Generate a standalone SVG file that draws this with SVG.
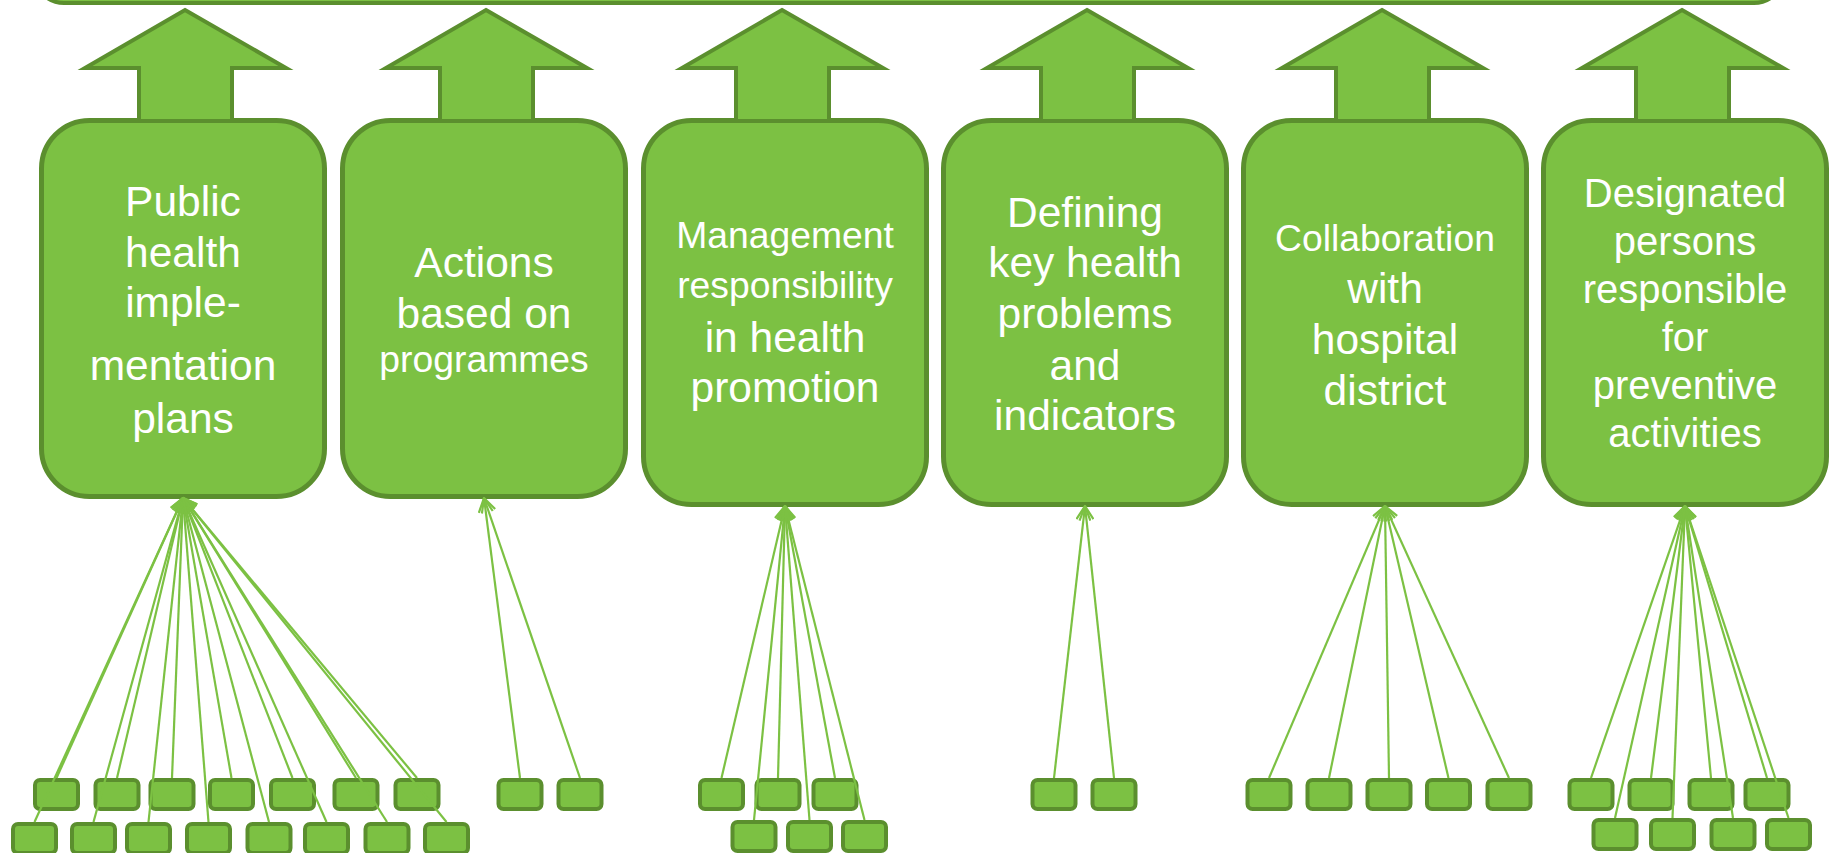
<svg xmlns="http://www.w3.org/2000/svg" width="1835" height="853" viewBox="0 0 1835 853">
<style>
.box{fill:#7cc143;stroke:#5b8f2e;stroke-width:5}
.up{fill:#7cc143;stroke:#5b8f2e;stroke-width:4;stroke-linejoin:miter}
.sm{fill:#7cc143;stroke:#5b8f2e;stroke-width:4}
.lbl{font-family:"Liberation Sans",Arial,Helvetica,sans-serif;fill:#ffffff;text-anchor:middle}
.f1{font-size:42.5px}
.f2{font-size:37.3px}
.f3{font-size:40px}
#connectors line{stroke:#7cc143;stroke-width:2.2;fill:none;marker-end:url(#ah)}
</style>
<defs>
<marker id="ah" viewBox="0 0 16 16" refX="15" refY="8" markerWidth="16" markerHeight="16" markerUnits="userSpaceOnUse" orient="auto">
<path d="M1,1 L15,8 L1,15" fill="none" stroke="#7cc143" stroke-width="2.2"/>
</marker>
</defs>
<rect width="1835" height="853" fill="#ffffff"/>
<g id="top-bar"><rect class="box" x="34" y="-60" width="1750" height="63" rx="30" style="stroke-width:4"/></g>

<g id="n1">
<rect class="box" x="41.5" y="120.5" width="283" height="376" rx="48"/>
<polygon class="up" points="185,10 286,68 232,68 232,121 139,121 139,68 85,68"/>
<text class="lbl f1" x="183" y="216">Public</text>
<text class="lbl f1" x="183" y="267">health</text>
<text class="lbl f1" x="183" y="317">imple-</text>
<text class="lbl f1" x="183" y="380">mentation</text>
<text class="lbl f1" x="183" y="433">plans</text>
</g>
<g id="n2">
<rect class="box" x="342.5" y="120.5" width="283" height="376" rx="48"/>
<polygon class="up" points="486,10 587,68 533,68 533,121 440,121 440,68 386,68"/>
<text class="lbl f1" x="484" y="277">Actions</text>
<text class="lbl f1" x="484" y="328">based on</text>
<text class="lbl f2" x="484" y="372">programmes</text>
</g>
<g id="n3">
<rect class="box" x="643.5" y="120.5" width="283" height="384" rx="48"/>
<polygon class="up" points="782,10 883,68 829,68 829,121 736,121 736,68 682,68"/>
<text class="lbl f2" x="785" y="248">Management</text>
<text class="lbl f2" x="785" y="298">responsibility</text>
<text class="lbl f1" x="785" y="352">in health</text>
<text class="lbl f1" x="785" y="402">promotion</text>
</g>
<g id="n4">
<rect class="box" x="943.5" y="120.5" width="283" height="384" rx="48"/>
<polygon class="up" points="1087,10 1188,68 1134,68 1134,121 1041,121 1041,68 987,68"/>
<text class="lbl f1" x="1085" y="227">Defining</text>
<text class="lbl f1" x="1085" y="277">key health</text>
<text class="lbl f1" x="1085" y="328">problems</text>
<text class="lbl f1" x="1085" y="380">and</text>
<text class="lbl f1" x="1085" y="430">indicators</text>
</g>
<g id="n5">
<rect class="box" x="1243.5" y="120.5" width="283" height="384" rx="48"/>
<polygon class="up" points="1382,10 1483,68 1429,68 1429,121 1336,121 1336,68 1282,68"/>
<text class="lbl f2" x="1385" y="251">Collaboration</text>
<text class="lbl f1" x="1385" y="303">with</text>
<text class="lbl f1" x="1385" y="354">hospital</text>
<text class="lbl f1" x="1385" y="405">district</text>
</g>
<g id="n6">
<rect class="box" x="1543.5" y="120.5" width="283" height="384" rx="48"/>
<polygon class="up" points="1682,10 1783,68 1729,68 1729,121 1636,121 1636,68 1582,68"/>
<text class="lbl f3" x="1685" y="207">Designated</text>
<text class="lbl f3" x="1685" y="255">persons</text>
<text class="lbl f3" x="1685" y="303">responsible</text>
<text class="lbl f3" x="1685" y="351">for</text>
<text class="lbl f3" x="1685" y="399">preventive</text>
<text class="lbl f3" x="1685" y="447">activities</text>
</g>

<g id="s1-1"><rect class="sm" x="35" y="780" width="43" height="29" rx="5"/></g>
<g id="s1-2"><rect class="sm" x="95.5" y="780" width="43" height="29" rx="5"/></g>
<g id="s1-3"><rect class="sm" x="150.5" y="780" width="43" height="29" rx="5"/></g>
<g id="s1-4"><rect class="sm" x="210" y="780" width="43" height="29" rx="5"/></g>
<g id="s1-5"><rect class="sm" x="271" y="780" width="43" height="29" rx="5"/></g>
<g id="s1-6"><rect class="sm" x="334.5" y="780" width="43" height="29" rx="5"/></g>
<g id="s1-7"><rect class="sm" x="395.5" y="780" width="43" height="29" rx="5"/></g>
<g id="s1-8"><rect class="sm" x="13" y="824" width="43" height="29" rx="5"/></g>
<g id="s1-9"><rect class="sm" x="72" y="824" width="43" height="29" rx="5"/></g>
<g id="s1-10"><rect class="sm" x="127" y="824" width="43" height="29" rx="5"/></g>
<g id="s1-11"><rect class="sm" x="187" y="824" width="43" height="29" rx="5"/></g>
<g id="s1-12"><rect class="sm" x="247.5" y="824" width="43" height="29" rx="5"/></g>
<g id="s1-13"><rect class="sm" x="305" y="824" width="43" height="29" rx="5"/></g>
<g id="s1-14"><rect class="sm" x="365.5" y="824" width="43" height="29" rx="5"/></g>
<g id="s1-15"><rect class="sm" x="425" y="824" width="43" height="29" rx="5"/></g>

<g id="s2-1"><rect class="sm" x="498.5" y="780" width="43" height="29" rx="5"/></g>
<g id="s2-2"><rect class="sm" x="558.5" y="780" width="43" height="29" rx="5"/></g>

<g id="s3-1"><rect class="sm" x="700" y="780" width="43" height="29" rx="5"/></g>
<g id="s3-2"><rect class="sm" x="756.5" y="780" width="43" height="29" rx="5"/></g>
<g id="s3-3"><rect class="sm" x="813.5" y="780" width="43" height="29" rx="5"/></g>
<g id="s3-4"><rect class="sm" x="732.5" y="822" width="43" height="29" rx="5"/></g>
<g id="s3-5"><rect class="sm" x="788" y="822" width="43" height="29" rx="5"/></g>
<g id="s3-6"><rect class="sm" x="843" y="822" width="43" height="29" rx="5"/></g>

<g id="s4-1"><rect class="sm" x="1032.5" y="780" width="43" height="29" rx="5"/></g>
<g id="s4-2"><rect class="sm" x="1092.5" y="780" width="43" height="29" rx="5"/></g>

<g id="s5-1"><rect class="sm" x="1247.5" y="780" width="43" height="29" rx="5"/></g>
<g id="s5-2"><rect class="sm" x="1307.5" y="780" width="43" height="29" rx="5"/></g>
<g id="s5-3"><rect class="sm" x="1367.5" y="780" width="43" height="29" rx="5"/></g>
<g id="s5-4"><rect class="sm" x="1427" y="780" width="43" height="29" rx="5"/></g>
<g id="s5-5"><rect class="sm" x="1487.5" y="780" width="43" height="29" rx="5"/></g>

<g id="s6-1"><rect class="sm" x="1569.5" y="780" width="43" height="29" rx="5"/></g>
<g id="s6-2"><rect class="sm" x="1629.5" y="780" width="43" height="29" rx="5"/></g>
<g id="s6-3"><rect class="sm" x="1689.5" y="780" width="43" height="29" rx="5"/></g>
<g id="s6-4"><rect class="sm" x="1745.5" y="780" width="43" height="29" rx="5"/></g>
<g id="s6-5"><rect class="sm" x="1593.5" y="820" width="43" height="29" rx="5"/></g>
<g id="s6-6"><rect class="sm" x="1651" y="820" width="43" height="29" rx="5"/></g>
<g id="s6-7"><rect class="sm" x="1711.5" y="820" width="43" height="29" rx="5"/></g>
<g id="s6-8"><rect class="sm" x="1767" y="820" width="43" height="29" rx="5"/></g>

<g id="connectors">
<line x1="56.5" y1="778" x2="183" y2="498"/>
<line x1="117" y1="778" x2="183" y2="498"/>
<line x1="172" y1="778" x2="183" y2="498"/>
<line x1="231.5" y1="778" x2="183" y2="498"/>
<line x1="292.5" y1="778" x2="183" y2="498"/>
<line x1="356" y1="778" x2="183" y2="498"/>
<line x1="417" y1="778" x2="183" y2="498"/>
<line x1="34.5" y1="822" x2="183" y2="498"/>
<line x1="93.5" y1="822" x2="183" y2="498"/>
<line x1="148.5" y1="822" x2="183" y2="498"/>
<line x1="208.5" y1="822" x2="183" y2="498"/>
<line x1="269" y1="822" x2="183" y2="498"/>
<line x1="326.5" y1="822" x2="183" y2="498"/>
<line x1="387" y1="822" x2="183" y2="498"/>
<line x1="446.5" y1="822" x2="183" y2="498"/>
<line x1="520" y1="778" x2="484" y2="498"/>
<line x1="580" y1="778" x2="484" y2="498"/>
<line x1="721.5" y1="778" x2="785" y2="506"/>
<line x1="778" y1="778" x2="785" y2="506"/>
<line x1="835" y1="778" x2="785" y2="506"/>
<line x1="754" y1="820" x2="785" y2="506"/>
<line x1="809.5" y1="820" x2="785" y2="506"/>
<line x1="864.5" y1="820" x2="785" y2="506"/>
<line x1="1054" y1="778" x2="1085" y2="506"/>
<line x1="1114" y1="778" x2="1085" y2="506"/>
<line x1="1269" y1="778" x2="1385" y2="506"/>
<line x1="1329" y1="778" x2="1385" y2="506"/>
<line x1="1389" y1="778" x2="1385" y2="506"/>
<line x1="1448.5" y1="778" x2="1385" y2="506"/>
<line x1="1509" y1="778" x2="1385" y2="506"/>
<line x1="1591" y1="778" x2="1685" y2="506"/>
<line x1="1651" y1="778" x2="1685" y2="506"/>
<line x1="1711" y1="778" x2="1685" y2="506"/>
<line x1="1767" y1="778" x2="1685" y2="506"/>
<line x1="1615" y1="818" x2="1685" y2="506"/>
<line x1="1672.5" y1="818" x2="1685" y2="506"/>
<line x1="1733" y1="818" x2="1685" y2="506"/>
<line x1="1788.5" y1="818" x2="1685" y2="506"/>
</g>
</svg>
